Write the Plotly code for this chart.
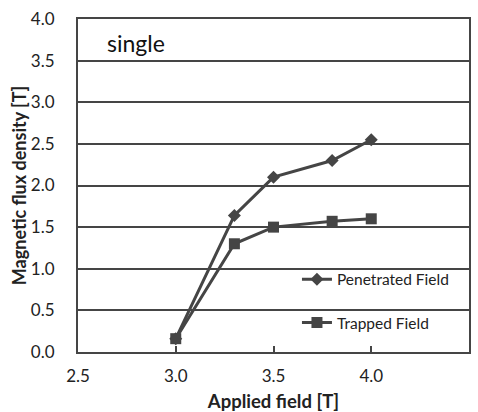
import plotly.graph_objects as go

# Applied field (T) and measured flux densities (T)
applied_field = [3.0, 3.3, 3.5, 3.8, 4.0]
penetrated_field = [0.16, 1.64, 2.10, 2.30, 2.55]
trapped_field = [0.16, 1.30, 1.50, 1.57, 1.60]

x_ticks = [2.5, 3.0, 3.5, 4.0, 4.5]
y_ticks = [0.0, 0.5, 1.0, 1.5, 2.0, 2.5, 3.0, 3.5, 4.0]

dark = "#454545"
font_family = "Lato, 'Open Sans', sans-serif"

fig = go.Figure()
fig.add_trace(go.Scatter(
    x=applied_field, y=penetrated_field, mode="lines+markers",
    name="Penetrated Field", legendgroup="p",
    line=dict(color=dark, width=3),
    marker=dict(symbol="diamond", size=10, color=dark),
))
fig.add_trace(go.Scatter(
    x=applied_field, y=trapped_field, mode="lines+markers",
    name="Trapped Field", legendgroup="t",
    line=dict(color=dark, width=3),
    marker=dict(symbol="square", size=11, color=dark),
))

fig.update_layout(
    width=478, height=412,
    margin=dict(l=78, r=9, t=19, b=60, autoexpand=False),
    paper_bgcolor="white", plot_bgcolor="white",
    font=dict(family=font_family, size=17, color="#222222"),
    showlegend=True,
    legend=dict(
        x=0.56, y=0.268, xanchor="left", yanchor="top",
        bgcolor="rgba(0,0,0,0)", borderwidth=0,
        font=dict(size=15.5, color="#222222"),
        tracegroupgap=20, itemwidth=30,
    ),
    # white panel behind the legend, drawn over the gridlines
    shapes=[dict(
        type="rect", xref="paper", yref="paper",
        x0=0.568, x1=0.99, y0=0.06, y1=0.26,
        fillcolor="white", line=dict(width=0), layer="between",
    )],
    xaxis=dict(
        range=[2.5, 4.5], tickvals=x_ticks,
        ticktext=[f"{v:.1f}" for v in x_ticks],
        showgrid=False, zeroline=False, automargin=False,
        showline=True, linecolor=dark, linewidth=2, mirror=True,
        ticks="inside", ticklen=6, tickwidth=2, tickcolor=dark,
        ticklabelstandoff=8,
        title=dict(text="<b>Applied field [T]</b>", font=dict(size=18.5), standoff=16),
    ),
    yaxis=dict(
        range=[0, 4.0], tickvals=y_ticks,
        ticktext=[f"{v:.1f}" for v in y_ticks],
        showgrid=True, gridcolor=dark, gridwidth=1.8, zeroline=False, automargin=False,
        showline=True, linecolor=dark, linewidth=2, mirror=True,
        ticks="", ticklabelstandoff=18,
        title=dict(text="<b>Magnetic flux density [T]</b>", font=dict(size=18), standoff=0),
    ),
    annotations=[dict(
        text="single", xref="paper", yref="paper", x=0.068, y=0.975,
        xanchor="left", yanchor="top", showarrow=False,
        font=dict(size=23, color="#111111"),
    )],
)

fig.write_html("out.html")
